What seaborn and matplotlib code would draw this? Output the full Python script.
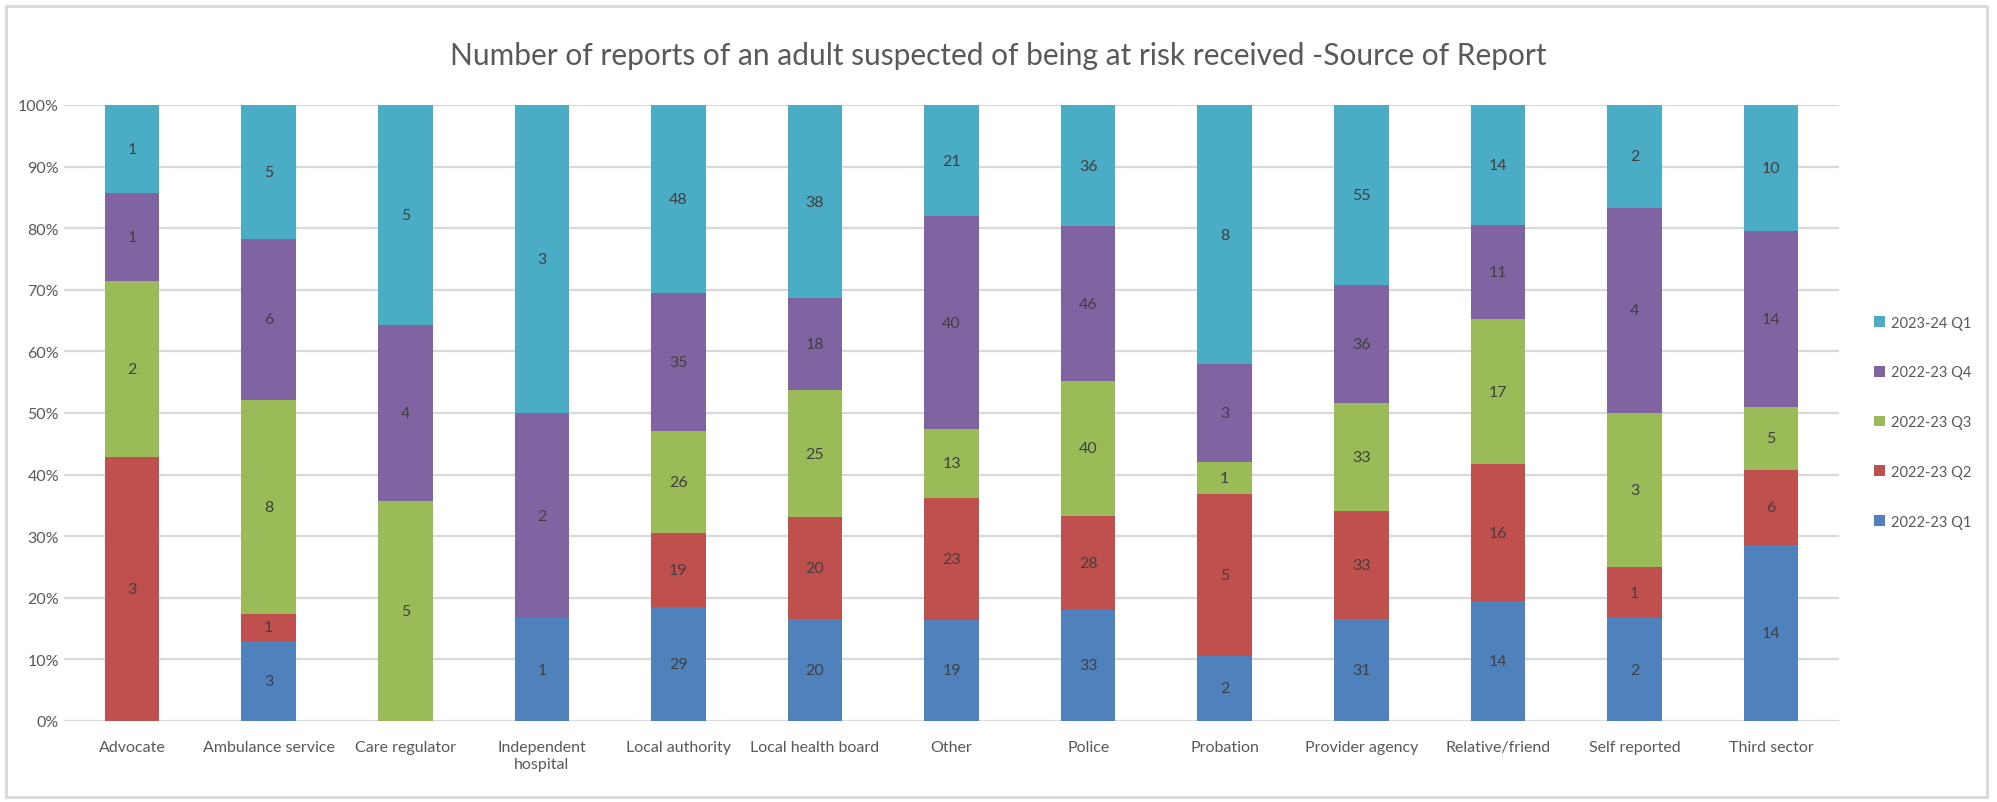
import matplotlib
import matplotlib.pyplot as plt
import pandas as pd
import seaborn as sns
from matplotlib.patches import Patch, Rectangle

matplotlib.use("Agg")

CATEGORIES = [
    "Advocate", "Ambulance service", "Care regulator", "Independent\nhospital",
    "Local authority", "Local health board", "Other", "Police", "Probation",
    "Provider agency", "Relative/friend", "Self reported", "Third sector",
]
SERIES = ["2022-23 Q1", "2022-23 Q2", "2022-23 Q3", "2022-23 Q4", "2023-24 Q1"]

Q1_2223 = [0, 3, 0, 1, 29, 20, 19, 33, 2, 31, 14, 2, 14]
Q2_2223 = [3, 1, 0, 0, 19, 20, 23, 28, 5, 33, 16, 1, 6]
Q3_2223 = [2, 8, 5, 0, 26, 25, 13, 40, 1, 33, 17, 3, 5]
Q4_2223 = [1, 6, 4, 2, 35, 18, 40, 46, 3, 36, 11, 4, 14]
Q1_2324 = [1, 5, 5, 3, 48, 38, 21, 36, 8, 55, 14, 2, 10]

COLORS = ["#4F81BD", "#C0504D", "#9BBB59", "#8064A2", "#4BACC6"]
TEXT_COLOR = "#404040"
TICK_COLOR = "#595959"
GRID_COLOR = "#D9D9D9"


def build_frame() -> pd.DataFrame:
    df = pd.DataFrame(
        [Q1_2223, Q2_2223, Q3_2223, Q4_2223, Q1_2324],
        index=SERIES, columns=CATEGORIES,
    ).T
    return df


def plot_source_of_report() -> None:
    sns.set_style("white")
    plt.rcParams["font.family"] = ["Lato", "DejaVu Sans"]

    counts = build_frame()
    pct = counts.div(counts.sum(axis=1), axis=0) * 100
    cum = pct.cumsum(axis=1)

    fig = plt.figure(figsize=(19.97, 8.03), dpi=100)
    ax = fig.add_axes([0.032, 0.101, 0.889, 0.767])

    # draw cumulative layers top-down so each shorter bar covers the one behind it
    for series, color in reversed(list(zip(SERIES, COLORS))):
        sns.barplot(x=CATEGORIES, y=cum[series].values, color=color,
                    saturation=1, width=0.4, ax=ax, linewidth=0, zorder=3)

    for i, cat in enumerate(CATEGORIES):
        for series in SERIES:
            n = counts.loc[cat, series]
            if n == 0:
                continue
            y = cum.loc[cat, series] - pct.loc[cat, series] / 2
            ax.text(i, y, str(n), ha="center", va="center",
                    fontsize=11.5, color=TEXT_COLOR, zorder=4)

    ax.set_ylim(0, 100)
    ax.set_xlim(-0.5, len(CATEGORIES) - 0.5)
    ax.set_yticks(range(0, 101, 10))
    ax.set_yticklabels([f"{v}%" for v in range(0, 101, 10)])
    ax.yaxis.grid(True, color=GRID_COLOR, lw=1.6, zorder=0)
    ax.set_axisbelow(True)
    for spine in ax.spines.values():
        spine.set_visible(False)
    ax.tick_params(axis="both", length=0, labelsize=11.5, labelcolor=TICK_COLOR)
    ax.tick_params(axis="x", pad=14)
    ax.set_xlabel("")
    ax.set_ylabel("")

    fig.suptitle("Number of reports of an adult suspected of being at risk received -Source of Report",
                 x=0.5, y=0.948, fontsize=21.5, color=TICK_COLOR)

    handles = [Patch(facecolor=c, edgecolor="none") for c in COLORS]
    fig.legend(handles[::-1], SERIES[::-1], loc="center left",
               bbox_to_anchor=(0.932, 0.473), frameon=False, fontsize=10.5,
               labelcolor=TICK_COLOR, handlelength=0.75, handleheight=0.75,
               handletextpad=0.4, labelspacing=2.45)

    fig.patches.append(Rectangle((0.003, 0.006), 0.992, 0.985, transform=fig.transFigure,
                                 fill=False, edgecolor=GRID_COLOR, lw=2))

    fig.savefig("out.png", dpi=100)


if __name__ == "__main__":
    plot_source_of_report()
